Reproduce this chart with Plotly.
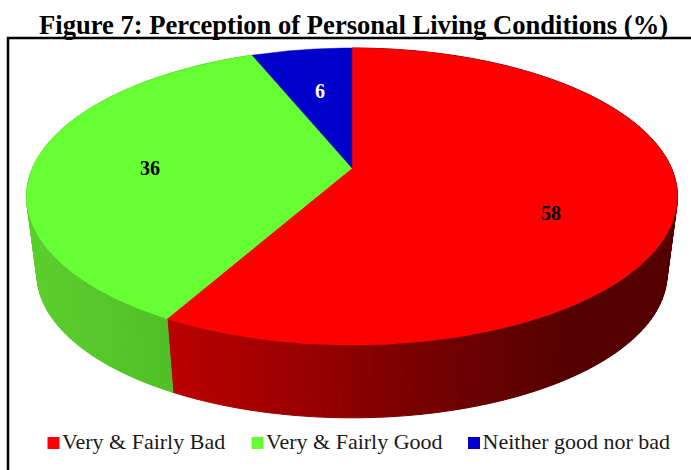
import numpy as np
import plotly.graph_objects as go

categories = ["Very & Fairly Bad", "Very & Fairly Good", "Neither good nor bad"]
values = [58, 36, 6]
top_colors = ["#ff0000", "#66ff33", "#0000cc"]
label_colors = ["black", "black", "white"]
title = "Figure 7: Perception of Personal Living Conditions (%)"

# Projection of the tilted disc on to the page (pixel axes)
CX, CY = 352, 168
A, B, K = 319.4, 143.0, 0.192
LOW_CY, LOW_S = 246.5, 0.968

# Side shading: (page x, r, g, b)
side_shades = [
    [(168, 188, 0, 0), (300, 155, 0, 0), (400, 125, 0, 0), (500, 100, 0, 0), (570, 85, 0, 0)],
    [(30, 92, 208, 46), (173, 80, 192, 38)],
    [(0, 0, 0, 120), (691, 0, 0, 120)],
]


def project(theta, r=1.0, cy=CY, s=1.0):
    """theta is clockwise from 12 o'clock."""
    u, v = r * np.sin(theta), r * np.cos(theta)
    d = 1 + K * v
    return CX + s * A * u / d, cy - s * B * v / d


def shade(stops, x):
    xs = [p[0] for p in stops]
    return "rgb(%d,%d,%d)" % tuple(
        np.interp(x, xs, [p[i] for p in stops]) for i in (1, 2, 3)
    )


fractions = np.array(values) / sum(values)
edges = np.concatenate([[0], np.cumsum(fractions)]) * 2 * np.pi

fig = go.Figure()

# side wall, one thin strip at a time so it can carry the gradient
for i, (a0, a1) in enumerate(zip(edges[:-1], edges[1:])):
    if i == 2:
        continue  # sits behind the disc
    n = max(2, int(np.degrees(a1 - a0) / 1.5))
    t = np.linspace(a0, a1, n + 1)
    for t0, t1 in zip(t[:-1], t[1:]):
        x0, y0 = project(t0)
        x1, y1 = project(t1)
        x2, y2 = project(t1, cy=LOW_CY, s=LOW_S)
        x3, y3 = project(t0, cy=LOW_CY, s=LOW_S)
        c = shade(side_shades[i], (x0 + x1 + x2 + x3) / 4)
        fig.add_trace(go.Scatter(
            x=[x0, x1, x2, x3, x0], y=[y0, y1, y2, y3, y0], mode="lines",
            fill="toself", fillcolor=c, line=dict(color=c, width=1),
            showlegend=False, hoverinfo="skip"))

# top face
for i, (a0, a1) in enumerate(zip(edges[:-1], edges[1:])):
    t = np.linspace(a0, a1, 200)
    x, y = project(t)
    fig.add_trace(go.Scatter(
        x=np.r_[CX, x, CX], y=np.r_[CY, y, CY], mode="lines", fill="toself",
        fillcolor=top_colors[i], line=dict(color=top_colors[i], width=0.5),
        name=categories[i], showlegend=False, hoverinfo="skip"))

# value labels
label_x = [551, 150, 320]
label_y = [215, 170, 93]
fig.add_trace(go.Scatter(
    x=label_x, y=label_y, mode="text", text=["<b>%d</b>" % v for v in values],
    textfont=dict(family="Liberation Serif", size=20, color=label_colors),
    textposition="middle center", showlegend=False, hoverinfo="skip"))

# legend row
legend_x = [53.5, 257.5, 474]
legend_y = 443
for i, name in enumerate(categories):
    fig.add_trace(go.Scatter(
        x=[legend_x[i]], y=[legend_y], mode="markers+text", text=[name],
        textposition="middle right",
        textfont=dict(family="Liberation Serif", size=22, color="#1a1a1a"),
        marker=dict(symbol="square", size=12, color=top_colors[i]),
        showlegend=False, hoverinfo="skip"))

fig.update_layout(
    width=691, height=470, margin=dict(l=0, r=0, t=0, b=0),
    paper_bgcolor="white", plot_bgcolor="white", showlegend=False,
    xaxis=dict(range=[0, 691], visible=False, fixedrange=True),
    yaxis=dict(range=[470, 0], visible=False, fixedrange=True),
    shapes=[dict(type="rect", xref="x", yref="y", x0=8, y0=38, x1=700, y1=480,
                 line=dict(color="black", width=2.5), layer="below")],
    annotations=[dict(text="<b>%s</b>" % title, x=353.5, y=25, xref="x", yref="y",
                      showarrow=False, xanchor="center", yanchor="middle",
                      font=dict(family="Liberation Serif", size=26.6, color="black"))],
)
fig.write_html("out.html", config=dict(displayModeBar=False),
               post_script="document.body.style.margin='0';document.documentElement.style.overflow='hidden';")
